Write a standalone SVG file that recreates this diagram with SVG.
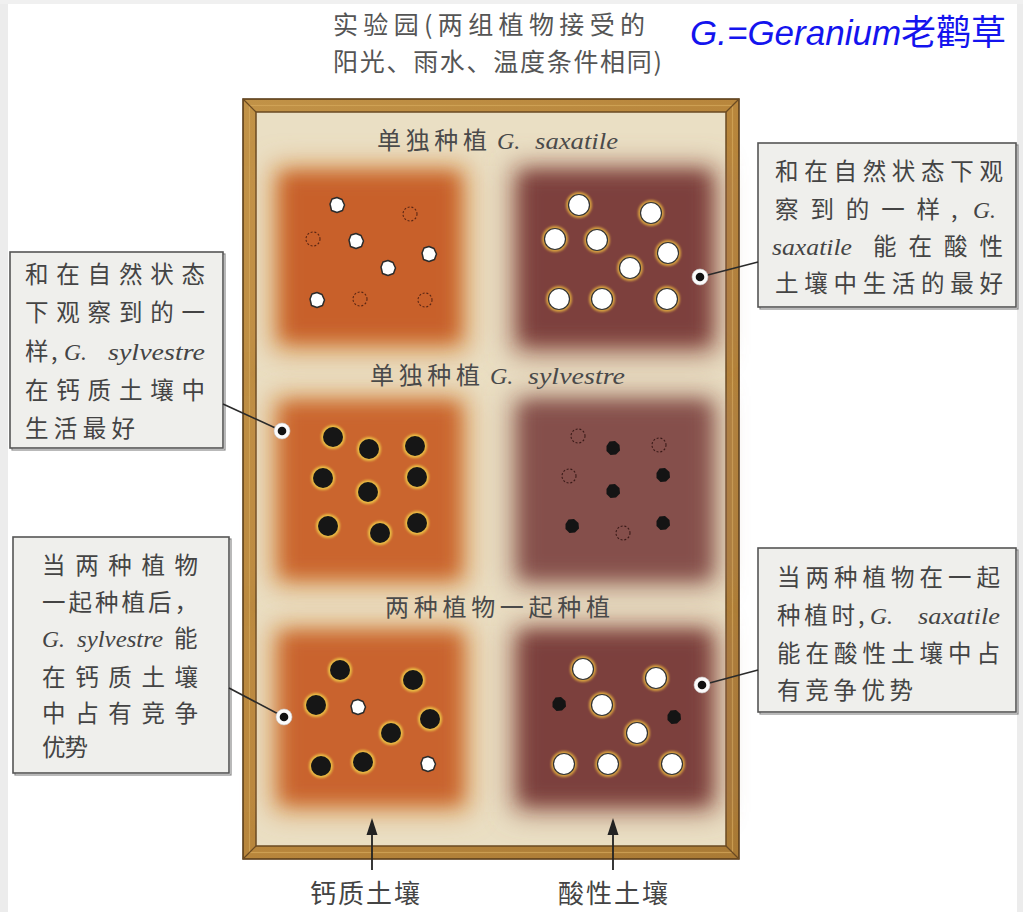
<svg xmlns="http://www.w3.org/2000/svg" xmlns:xlink="http://www.w3.org/1999/xlink" width="1023" height="912" viewBox="0 0 1023 912">
  <style>
    .cjk { font-family: "Noto Sans CJK SC", "Liberation Sans", sans-serif; }
    .lat { font-family: "Liberation Serif", "DejaVu Serif", serif; font-style: italic; }
    .head { fill: #555; font-size: 25px; }
    .plot { fill: #4a4a4a; font-size: 24px; }
    .note { fill: #444; font-size: 23.5px; }
    .box { fill: #efefec; stroke: #555; stroke-width: 1.6; }
    .boxshade { fill: none; stroke: #8a8a8a; stroke-width: 1.2; }
    .lead { stroke: #2a2a2a; stroke-width: 1.6; fill: none; }
    .halo { fill: #fbfbfb; stroke: #c8c8c8; stroke-width: 0.6; }
    .pin { fill: #111; }
    .arrow { stroke: #222; stroke-width: 1.8; }
  </style>
  <defs>
    <filter id="soilblur" x="-25%" y="-25%" width="150%" height="150%">
      <feGaussianBlur stdDeviation="9"/>
    </filter>
    <filter id="soilblur2" x="-25%" y="-25%" width="150%" height="150%">
      <feGaussianBlur stdDeviation="14"/>
    </filter>
    <filter id="glow" x="-50%" y="-50%" width="200%" height="200%">
      <feGaussianBlur stdDeviation="1"/>
    </filter>
    <linearGradient id="wood" x1="0" y1="0" x2="1" y2="1">
      <stop offset="0" stop-color="#c19247"/>
      <stop offset="0.5" stop-color="#b8863c"/>
      <stop offset="1" stop-color="#a97a35"/>
    </linearGradient>
    <!-- struggling G. saxatile: small white seedling -->
    <path id="wc" d="M-7,-1 L-5,-6 L0,-7.5 L5,-5.5 L7.5,0 L5.5,5.5 L0,7.5 L-5.5,5.5 Z" fill="#fff" stroke="#2b2b2b" stroke-width="1.5" stroke-linejoin="round"/>
    <!-- missing plant -->
    <circle id="dc" r="7" fill="none" stroke="#5a2614" stroke-width="1.1" stroke-dasharray="2 1.8"/>
    <circle id="dcp" r="7" fill="none" stroke="#3a1a18" stroke-width="1.1" stroke-dasharray="2 1.8"/>
    <!-- thriving G. saxatile -->
    <g id="wr">
      <circle r="13" fill="#d7a040" filter="url(#glow)"/>
      <circle r="10.5" fill="#fff" stroke="#333" stroke-width="1.2"/>
    </g>
    <!-- thriving G. sylvestre -->
    <g id="br">
      <circle r="12" fill="#ebbd45" filter="url(#glow)"/>
      <circle r="10" fill="#161616"/>
    </g>
    <!-- struggling G. sylvestre -->
    <path id="bs" d="M-6.5,-2 L-3.5,-6.5 L2,-7 L6.5,-3 L7,2.5 L3,6.5 L-2.5,7 L-6.5,3 Z" fill="#141414"/>
  </defs>

  <!-- page -->
  <rect x="0" y="0" width="1023" height="912" fill="#fff"/>
  <rect x="0" y="0" width="8" height="912" fill="#ececec"/>
  <rect x="1017" y="0" width="6" height="912" fill="#ececec"/>
  <rect x="0" y="0" width="1023" height="4" fill="#f0f0f0"/>

  <!-- heading -->
  <g id="heading">
    <text class="cjk head" x="333" y="34" textLength="312" lengthAdjust="spacing">实验园(两组植物接受的</text>
    <text class="cjk head" x="333" y="71" textLength="329" lengthAdjust="spacing">阳光、雨水、温度条件相同)</text>
  </g>
  <g id="legend">
    <text x="690" y="45" fill="#1414ee" font-size="35"><tspan font-family="Liberation Sans, Arial, sans-serif" font-style="italic">G.=Geranium</tspan><tspan font-family="Noto Sans CJK SC, sans-serif">老鹳草</tspan></text>
  </g>

  <!-- garden frame -->
  <g id="garden">
    <rect x="243" y="99" width="496" height="760" fill="url(#wood)" stroke="#5a3d1a" stroke-width="1.6"/>
    <rect x="249.5" y="105.5" width="483" height="747" fill="none" stroke="#d6aa5c" stroke-width="1.2" opacity="0.7"/>
    <rect x="256" y="112" width="470" height="734" fill="#eadfc4" stroke="#6a4a22" stroke-width="1.5"/>
    <g stroke="#6a4a22" stroke-width="1.2">
      <line x1="243" y1="99" x2="256" y2="112"/>
      <line x1="739" y1="99" x2="726" y2="112"/>
      <line x1="243" y1="859" x2="256" y2="846"/>
      <line x1="739" y1="859" x2="726" y2="846"/>
    </g>
  </g>

  <!-- soil plots -->
  <g id="soil">
    <rect x="272" y="166" width="196" height="186" fill="#d99a5a" filter="url(#soilblur2)"/>
    <rect x="282" y="174" width="176" height="166" fill="#c8612c" filter="url(#soilblur)"/>
    <rect x="512" y="166" width="206" height="188" fill="#a2705e" filter="url(#soilblur2)"/>
    <rect x="522" y="174" width="186" height="168" fill="#7d403d" filter="url(#soilblur)"/>

    <rect x="272" y="396" width="196" height="190" fill="#d99a5a" filter="url(#soilblur2)"/>
    <rect x="282" y="404" width="176" height="172" fill="#ca652e" filter="url(#soilblur)"/>
    <rect x="512" y="396" width="206" height="190" fill="#a67a6a" filter="url(#soilblur2)"/>
    <rect x="522" y="404" width="186" height="172" fill="#85504c" filter="url(#soilblur)"/>

    <rect x="272" y="626" width="198" height="186" fill="#d99a5a" filter="url(#soilblur2)"/>
    <rect x="282" y="634" width="178" height="168" fill="#c9632d" filter="url(#soilblur)"/>
    <rect x="512" y="626" width="206" height="186" fill="#a2705e" filter="url(#soilblur2)"/>
    <rect x="522" y="634" width="186" height="168" fill="#7c3f3c" filter="url(#soilblur)"/>
  </g>

  <!-- plot titles -->
  <g id="title-saxatile">
    <text class="cjk plot" x="377" y="149" textLength="110" lengthAdjust="spacing">单独种植</text>
    <text class="lat plot" x="497" y="149" font-size="26">G.</text>
    <text class="lat plot" x="535" y="149" font-size="26" textLength="83" lengthAdjust="spacingAndGlyphs">saxatile</text>
  </g>
  <g id="title-sylvestre">
    <text class="cjk plot" x="370" y="384" textLength="110" lengthAdjust="spacing">单独种植</text>
    <text class="lat plot" x="490" y="384" font-size="26">G.</text>
    <text class="lat plot" x="528" y="384" font-size="26" textLength="97" lengthAdjust="spacingAndGlyphs">sylvestre</text>
  </g>
  <g id="title-mixed">
    <text class="cjk plot" x="385" y="616" font-size="25" textLength="225" lengthAdjust="spacing">两种植物一起种植</text>
  </g>

  <!-- plants: G. saxatile alone -->
  <g id="plot-saxatile-calcareous">
    <use href="#wc" x="337" y="205"/>
    <use href="#wc" x="356" y="241"/>
    <use href="#wc" x="429" y="254"/>
    <use href="#wc" x="388" y="268"/>
    <use href="#wc" x="317" y="300"/>
    <use href="#dc" x="410" y="214"/>
    <use href="#dc" x="313" y="239"/>
    <use href="#dc" x="360" y="299"/>
    <use href="#dc" x="425" y="300"/>
  </g>
  <g id="plot-saxatile-acid">
    <use href="#wr" x="579" y="205"/>
    <use href="#wr" x="651" y="213"/>
    <use href="#wr" x="555" y="239"/>
    <use href="#wr" x="597" y="240"/>
    <use href="#wr" x="668" y="253"/>
    <use href="#wr" x="630" y="268"/>
    <use href="#wr" x="559" y="299"/>
    <use href="#wr" x="602" y="299"/>
    <use href="#wr" x="667" y="299"/>
  </g>

  <!-- plants: G. sylvestre alone -->
  <g id="plot-sylvestre-calcareous">
    <use href="#br" x="333" y="437"/>
    <use href="#br" x="369" y="449"/>
    <use href="#br" x="415" y="446"/>
    <use href="#br" x="323" y="478"/>
    <use href="#br" x="417" y="477"/>
    <use href="#br" x="368" y="492"/>
    <use href="#br" x="328" y="526"/>
    <use href="#br" x="380" y="533"/>
    <use href="#br" x="417" y="523"/>
  </g>
  <g id="plot-sylvestre-acid">
    <use href="#dcp" x="578" y="436"/>
    <use href="#dcp" x="659" y="445"/>
    <use href="#dcp" x="569" y="476"/>
    <use href="#dcp" x="623" y="533"/>
    <use href="#bs" x="613" y="448"/>
    <use href="#bs" x="663" y="475"/>
    <use href="#bs" x="613" y="491"/>
    <use href="#bs" x="572" y="526"/>
    <use href="#bs" x="663" y="523"/>
  </g>

  <!-- plants: grown together -->
  <g id="plot-mixed-calcareous">
    <use href="#br" x="340" y="670"/>
    <use href="#br" x="413" y="680"/>
    <use href="#br" x="316" y="705"/>
    <use href="#br" x="430" y="719"/>
    <use href="#br" x="391" y="733"/>
    <use href="#br" x="321" y="766"/>
    <use href="#br" x="363" y="762"/>
    <use href="#wc" x="358" y="707"/>
    <use href="#wc" x="428" y="764"/>
  </g>
  <g id="plot-mixed-acid">
    <use href="#wr" x="583" y="669"/>
    <use href="#wr" x="656" y="678"/>
    <use href="#wr" x="602" y="705"/>
    <use href="#wr" x="637" y="733"/>
    <use href="#wr" x="564" y="764"/>
    <use href="#wr" x="608" y="764"/>
    <use href="#wr" x="672" y="764"/>
    <use href="#bs" x="559" y="704"/>
    <use href="#bs" x="674" y="717"/>
  </g>

  <!-- callouts -->
  <g id="note-sylvestre-alone">
    <rect class="boxshade" x="12" y="254" width="213" height="196"/>
    <rect class="box" x="10" y="252" width="213" height="196"/>
    <text class="cjk note" x="25" y="283" textLength="180" lengthAdjust="spacing">和在自然状态</text>
    <text class="cjk note" x="25" y="321" textLength="180" lengthAdjust="spacing">下观察到的一</text>
    <text class="cjk note" x="25" y="360">样</text>
    <text class="cjk note" x="51" y="360">,</text>
    <text class="lat note" x="64" y="360" font-size="25">G.</text>
    <text class="lat note" x="108" y="360" font-size="25" textLength="97" lengthAdjust="spacingAndGlyphs">sylvestre</text>
    <text class="cjk note" x="25" y="399" textLength="180" lengthAdjust="spacing">在钙质土壤中</text>
    <text class="cjk note" x="25" y="437" textLength="110" lengthAdjust="spacing">生活最好</text>
  </g>

  <g id="note-saxatile-alone">
    <rect class="boxshade" x="760" y="145" width="258" height="164"/>
    <rect class="box" x="758" y="143" width="258" height="164"/>
    <text class="cjk note" x="775" y="180" textLength="228" lengthAdjust="spacing">和在自然状态下观</text>
    <text class="cjk note" x="775" y="218" textLength="165" lengthAdjust="spacing">察到的一样</text>
    <text class="cjk note" x="951" y="218">,</text>
    <text class="lat note" x="973" y="218" font-size="25">G.</text>
    <text class="lat note" x="772" y="255" font-size="25" textLength="80" lengthAdjust="spacingAndGlyphs">saxatile</text>
    <text class="cjk note" x="873" y="255" textLength="130" lengthAdjust="spacing">能在酸性</text>
    <text class="cjk note" x="775" y="292" textLength="228" lengthAdjust="spacing">土壤中生活的最好</text>
  </g>

  <g id="note-sylvestre-mixed">
    <rect class="boxshade" x="15" y="539" width="216" height="236"/>
    <rect class="box" x="13" y="537" width="216" height="236"/>
    <text class="cjk note" x="42" y="574" textLength="156" lengthAdjust="spacing">当两种植物</text>
    <text class="cjk note" x="42" y="611" textLength="156" lengthAdjust="spacing">一起种植后，</text>
    <text class="lat note" x="42" y="647" font-size="25">G.</text>
    <text class="lat note" x="77" y="647" font-size="25" textLength="86" lengthAdjust="spacingAndGlyphs">sylvestre</text>
    <text class="cjk note" x="174" y="647">能</text>
    <text class="cjk note" x="42" y="686" textLength="156" lengthAdjust="spacing">在钙质土壤</text>
    <text class="cjk note" x="42" y="722" textLength="156" lengthAdjust="spacing">中占有竞争</text>
    <text class="cjk note" x="42" y="756" textLength="46" lengthAdjust="spacing">优势</text>
  </g>

  <g id="note-saxatile-mixed">
    <rect class="boxshade" x="760" y="550" width="258" height="164"/>
    <rect class="box" x="758" y="548" width="258" height="164"/>
    <text class="cjk note" x="777" y="586" textLength="223" lengthAdjust="spacing">当两种植物在一起</text>
    <text class="cjk note" x="777" y="624" textLength="78" lengthAdjust="spacing">种植时</text>
    <text class="cjk note" x="858" y="624">,</text>
    <text class="lat note" x="870" y="624" font-size="25">G.</text>
    <text class="lat note" x="918" y="624" font-size="25" textLength="82" lengthAdjust="spacingAndGlyphs">saxatile</text>
    <text class="cjk note" x="777" y="662" textLength="223" lengthAdjust="spacing">能在酸性土壤中占</text>
    <text class="cjk note" x="777" y="699" textLength="136" lengthAdjust="spacing">有竞争优势</text>
  </g>

  <!-- leader lines and pins -->
  <g id="connectors">
    <line class="lead" x1="223" y1="404" x2="282" y2="431"/>
    <line class="lead" x1="758" y1="262" x2="700" y2="277"/>
    <line class="lead" x1="229" y1="688" x2="284" y2="717"/>
    <line class="lead" x1="758" y1="670" x2="702" y2="685"/>
    <circle class="halo" cx="282" cy="431" r="8"/>
    <circle class="pin" cx="282" cy="431" r="4.3"/>
    <circle class="halo" cx="700" cy="277" r="8"/>
    <circle class="pin" cx="700" cy="277" r="4.3"/>
    <circle class="halo" cx="284" cy="717" r="8"/>
    <circle class="pin" cx="284" cy="717" r="4.3"/>
    <circle class="halo" cx="702" cy="685" r="8"/>
    <circle class="pin" cx="702" cy="685" r="4.3"/>

    <line class="arrow" x1="372" y1="870" x2="372" y2="830"/>
    <polygon points="372,818 366.5,835 377.5,835" fill="#222"/>
    <line class="arrow" x1="613" y1="870" x2="613" y2="830"/>
    <polygon points="613,818 607.5,835 618.5,835" fill="#222"/>
  </g>

  <!-- soil labels -->
  <g id="label-calcareous">
    <text class="cjk" x="310" y="903" fill="#444" font-size="26" textLength="110" lengthAdjust="spacing">钙质土壤</text>
  </g>
  <g id="label-acid">
    <text class="cjk" x="558" y="903" fill="#444" font-size="26" textLength="110" lengthAdjust="spacing">酸性土壤</text>
  </g>
</svg>
